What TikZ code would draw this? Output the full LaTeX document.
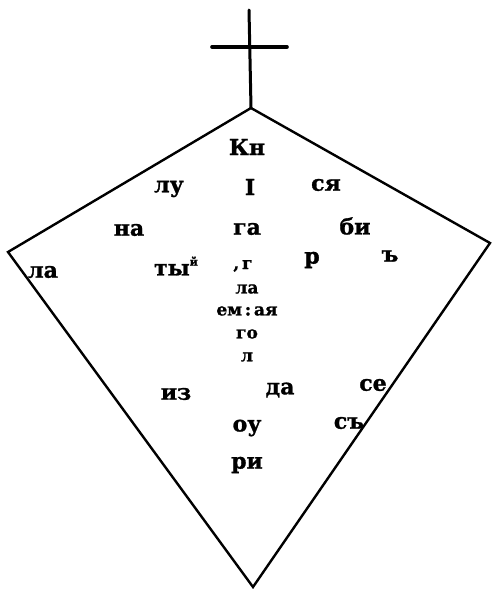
\documentclass[tikz,border=0pt]{standalone}
\usepackage{fontspec}
\newfontfamily\oldfont[FakeBold=1.2]{DejaVu Serif Bold}
\usetikzlibrary{positioning}
\tikzset{
  syl/.style={font=\oldfont\fontsize{22}{22}\selectfont,inner sep=0pt},
  sylsmall/.style={font=\oldfont\fontsize{17}{17}\selectfont,inner sep=0pt},
}

\begin{document}
\begin{tikzpicture}[x=1pt,y=-1pt]
\useasboundingbox (0,0) rectangle (493,589);
% cross on top
\draw[line width=3pt,line cap=round] (249,10) -- (251,108);
\draw[line width=3.6pt,line cap=round] (212,47) -- (287,47);
% the kite
\coordinate (top) at (251,108);
\coordinate (right) at (490,243);
\coordinate (bottom) at (253,587);
\coordinate (left) at (8,252);
\draw[line width=2.4pt] (top) -- (right) -- (bottom) -- (left) -- cycle;
% syllables
\node[syl] (kn) at (247,147) {Кн};
\node[syl] (lu) at (169,189) {лу};
\node[syl] (i) at (250,187) {І};
\node[syl] (sya) at (326,185) {ся};
\node[syl] (na) at (129,230) {на};
\node[syl] (ga) at (247,229) {га};
\node[syl] (bi) at (355,226) {би};
\node[syl] (la1) at (43,272) {ла};
\node[syl] (tyi) at (176,266) {ты\raisebox{0.45em}{\fontsize{11}{11}\selectfont й}};
\node[sylsmall] (g) at (243,266) {,\,г};
\node[syl] (r) at (312,260) {р};
\node[syl] (er) at (390,256) {ъ};
\node[sylsmall] (la2) at (247,289) {ла};
\node[sylsmall] (em) at (247,311) {ем\,:\,ая};
\node[sylsmall] (go) at (247,334) {го};
\node[sylsmall] (l) at (247,357) {л};
\node[syl] (iz) at (176,394) {из};
\node[syl] (da) at (280,390) {да};
\node[syl] (se) at (373,385) {се};
\node[syl] (ou) at (247,428) {оу};
\node[syl] (s) at (349,423) {съ};
\node[syl] (ri) at (247,465) {ри};
\end{tikzpicture}
\end{document}
